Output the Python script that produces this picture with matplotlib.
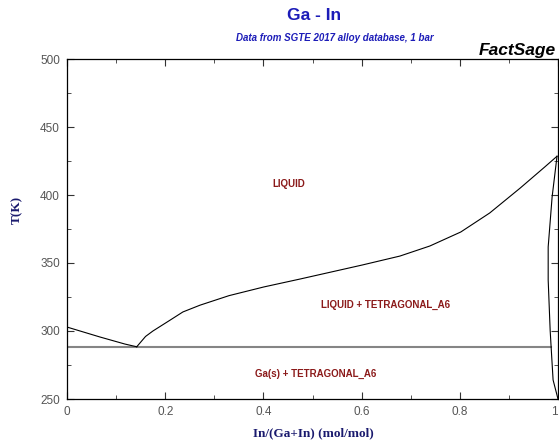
#%%Import packages
import numpy as np
import matplotlib.pyplot as plt
from matplotlib.ticker import MultipleLocator

#%%Phase diagram data
ga_liq_x = [0.0, 0.067, 0.118, 0.142]
ga_liq_T = [302.9, 295.6, 290.4, 288.4]
in_liq_x = [0.142, 0.160, 0.175, 0.21, 0.236, 0.271, 0.33, 0.401, 0.4745, 0.601,
            0.678, 0.739, 0.802, 0.861, 0.923, 0.973, 0.998]
in_liq_T = [288.4, 296.0, 300.0, 308.0, 314.0, 319.0, 326.0, 332.4, 338.2, 348.5,
            355.1, 362.5, 372.8, 386.8, 405.1, 420.6, 428.5]
solvus_x = [0.998, 0.988, 0.980, 0.980, 0.984, 0.986, 0.990, 1.0]
solvus_T = [428.5, 398.5, 361.8, 337.5, 300.7, 288.2, 264.0, 250.0]
eutectic_x = [0.0, 0.986]
eutectic_T = [288.4, 288.4]
region_names = ['LIQUID', 'LIQUID + TETRAGONAL_A6', 'Ga(s) + TETRAGONAL_A6']
region_x = [0.452, 0.648, 0.507]
region_T = [408.0, 319.0, 268.4]

#%%Plot
fig = plt.figure(figsize=(5.59, 4.43), dpi=100)
ax = fig.add_axes([67/559, 1-399/443, 491/559, 340/443])
ax.plot(eutectic_x, eutectic_T, color='#858585', lw=1.5)
ax.plot(ga_liq_x, ga_liq_T, color='black', lw=0.8)
ax.plot(in_liq_x, in_liq_T, color='black', lw=0.8)
ax.plot(solvus_x, solvus_T, color='black', lw=0.8)
for name, xx, tt in zip(region_names, region_x, region_T):
    ax.text(xx, tt, name, ha='center', va='center', fontsize=7, fontweight='bold',
            family='Liberation Sans', color='#8b1a1a')

ax.set_xlim(0, 1)
ax.set_ylim(250, 500)
ax.xaxis.set_major_locator(MultipleLocator(0.2))
ax.xaxis.set_minor_locator(MultipleLocator(0.1))
ax.yaxis.set_major_locator(MultipleLocator(50))
ax.yaxis.set_minor_locator(MultipleLocator(25))
ax.set_xticks([0, 0.2, 0.4, 0.6, 0.8, 1.0])
ax.set_xticklabels(['0', '0.2', '0.4', '0.6', '0.8', '1'])
ax.tick_params(which='both', direction='in', top=True, right=True, color='#333333',
               labelsize=8.5, labelcolor='#555555', pad=5)
ax.tick_params(which='major', length=5)
ax.tick_params(which='minor', length=3)
for lab in ax.get_xticklabels() + ax.get_yticklabels():
    lab.set_family('Liberation Sans')
ax.get_xticklabels()[-1].set_horizontalalignment('right') #keep the '1' inside the picture
for sp in ax.spines.values():
    sp.set_linewidth(0.9)

#%%Titles and axis labels
fig.text(314/559, 1-16/443, 'Ga - In', ha='center', va='center', fontsize=12.5,
         fontweight='bold', family='Liberation Sans', color='#1c1cb8')
fig.text(335/559, 1-38/443, 'Data from SGTE 2017 alloy database, 1 bar', ha='center',
         va='center', fontsize=7, fontweight='bold', style='italic',
         family='Liberation Sans', color='#1c1cb8')
fig.text(556/559, 1-51/443, 'FactSage', ha='right', va='center', fontsize=12.5,
         fontweight='bold', style='italic', family='Liberation Sans', color='black')
fig.text(17/559, 1-210/443, 'T(K)', ha='center', va='center', rotation=90, fontsize=9.5,
         fontweight='bold', family='Liberation Serif', color='#1a1a6e')
fig.text(313/559, 1-433/443, 'In/(Ga+In) (mol/mol)', ha='center', va='center',
         fontsize=9.5, fontweight='bold', family='Liberation Serif', color='#1a1a6e')

plt.savefig('out.png', dpi=100)
